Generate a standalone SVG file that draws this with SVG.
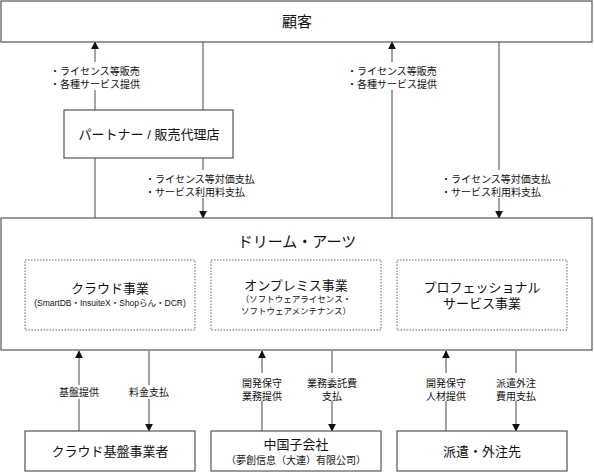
<svg xmlns="http://www.w3.org/2000/svg" width="594" height="473" viewBox="0 0 594 473">
<style>
text{font-family:"Liberation Sans","Noto Sans CJK JP","Noto Sans CJK SC",sans-serif;fill:#111;text-anchor:middle}
.box{fill:#fff;stroke:#555;stroke-width:1.2}
.dot{fill:none;stroke:#666;stroke-width:1;stroke-dasharray:1.5 1.5}
.ln{stroke:#666;stroke-width:1.2;fill:none}
.lb{font-size:10px;text-anchor:start}
.lc{font-size:10px}
.t14{font-size:15px}
.t12{font-size:13px}
.t8{font-size:8.5px}
</style>
<defs>
<marker id="ah" viewBox="0 0 10 10" refX="9" refY="5" markerWidth="8" markerHeight="8" markerUnits="userSpaceOnUse" orient="auto"><path d="M0,0 L10,5 L0,10 z" fill="#111"/></marker>
</defs>
<rect width="594" height="473" fill="#fff"/>
<g id="connectors">
<line class="ln" x1="95" y1="110" x2="95" y2="42" marker-end="url(#ah)"/>
<line class="ln" x1="203" y1="42" x2="203" y2="110"/>
<line class="ln" x1="392" y1="218" x2="392" y2="42" marker-end="url(#ah)"/>
<line class="ln" x1="499" y1="42" x2="499" y2="218" marker-end="url(#ah)"/>
<line class="ln" x1="95" y1="158" x2="95" y2="218"/>
<line class="ln" x1="203" y1="158" x2="203" y2="218" marker-end="url(#ah)"/>
<line class="ln" x1="79" y1="431" x2="79" y2="351" marker-end="url(#ah)"/>
<line class="ln" x1="149" y1="351" x2="149" y2="431" marker-end="url(#ah)"/>
<line class="ln" x1="262" y1="431" x2="262" y2="351" marker-end="url(#ah)"/>
<line class="ln" x1="332" y1="351" x2="332" y2="431" marker-end="url(#ah)"/>
<line class="ln" x1="446" y1="431" x2="446" y2="351" marker-end="url(#ah)"/>
<line class="ln" x1="516" y1="351" x2="516" y2="431" marker-end="url(#ah)"/>
<rect x="50" y="62" width="95" height="28" fill="#fff"/>
<rect x="347" y="62" width="95" height="28" fill="#fff"/>
<rect x="145" y="170" width="115" height="28" fill="#fff"/>
<rect x="441" y="170" width="115" height="28" fill="#fff"/>
<rect x="50" y="385" width="58" height="14" fill="#fff"/>
<rect x="122" y="385" width="55" height="14" fill="#fff"/>
<rect x="235" y="373" width="55" height="28" fill="#fff"/>
<rect x="302" y="373" width="60" height="28" fill="#fff"/>
<rect x="419" y="373" width="55" height="28" fill="#fff"/>
<rect x="488" y="373" width="58" height="28" fill="#fff"/>
<text class="lb" x="50" y="75">・ライセンス等販売</text>
<text class="lb" x="50" y="88">・各種サービス提供</text>
<text class="lb" x="347" y="75">・ライセンス等販売</text>
<text class="lb" x="347" y="88">・各種サービス提供</text>
<text class="lb" x="145" y="183">・ライセンス等対価支払</text>
<text class="lb" x="145" y="196">・サービス利用料支払</text>
<text class="lb" x="441" y="183">・ライセンス等対価支払</text>
<text class="lb" x="441" y="196">・サービス利用料支払</text>
<text class="lc" x="79" y="396">基盤提供</text>
<text class="lc" x="149" y="396">料金支払</text>
<text class="lc" x="262" y="387">開発保守</text>
<text class="lc" x="262" y="400">業務提供</text>
<text class="lc" x="332" y="387">業務委託費</text>
<text class="lc" x="332" y="400">支払</text>
<text class="lc" x="446" y="387">開発保守</text>
<text class="lc" x="446" y="400">人材提供</text>
<text class="lc" x="516" y="387">派遣外注</text>
<text class="lc" x="516" y="400">費用支払</text>
</g>
<g id="customer">
<rect class="box" x="1" y="1" width="591" height="41"/>
<text class="t14" x="297" y="27">顧客</text>
</g>
<g id="partner">
<rect class="box" x="64" y="110" width="169" height="48"/>
<text class="t12" x="149" y="139">パートナー / 販売代理店</text>
</g>
<g id="dreamarts">
<rect class="box" x="1" y="218" width="591" height="132"/>
<text class="t14" x="297" y="247">ドリーム・アーツ</text>
</g>
<g id="cloud">
<rect class="dot" x="25" y="260" width="170" height="70"/>
<text class="t12" x="110" y="293">クラウド事業</text>
<text class="t8" x="110" y="306">(SmartDB・InsuiteX・Shopらん・DCR)</text>
</g>
<g id="onpremise">
<rect class="dot" x="211" y="260" width="170" height="70"/>
<text class="t12" x="296" y="290">オンプレミス事業</text>
<text class="t8" x="296" y="302">（ソフトウェアライセンス・</text>
<text class="t8" x="296" y="314">ソフトウェアメンテナンス）</text>
</g>
<g id="professional">
<rect class="dot" x="397" y="260" width="170" height="70"/>
<text class="t12" x="482" y="292">プロフェッショナル</text>
<text class="t12" x="482" y="308">サービス事業</text>
</g>
<g id="cloudinfra">
<rect class="box" x="25" y="431" width="170" height="40"/>
<text class="t12" x="110" y="456">クラウド基盤事業者</text>
</g>
<g id="china">
<rect class="box" x="211" y="431" width="170" height="40"/>
<text class="t12" x="296" y="449">中国子会社</text>
<text class="lc" x="296" y="464">（夢創信息（大連）有限公司）</text>
</g>
<g id="outsource">
<rect class="box" x="397" y="431" width="170" height="40"/>
<text class="t12" x="482" y="456">派遣・外注先</text>
</g>
</svg>
